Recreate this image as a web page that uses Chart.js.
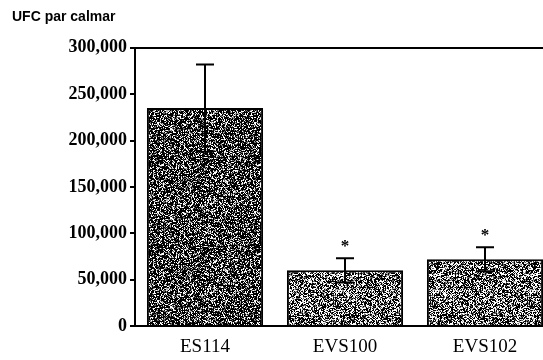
<!DOCTYPE html>
<html>
<head>
<meta charset="utf-8">
<script src="https://cdn.jsdelivr.net/npm/chart.js@4/dist/chart.umd.min.js"></script>
<style>
  html, body { margin: 0; padding: 0; background: #fff; }
  #wrap { width: 543px; height: 360px; overflow: hidden; position: relative; }
</style>
</head>
<body>
<div id="wrap"><canvas id="chart" width="555" height="360"></canvas></div>
<script>
const categories = ["ES114", "EVS100", "EVS102"];
const ufcMeans = [235000, 60000, 72000];
const ufcErrors = [47000, 13000, 13000];
const marks = ["", "*", "*"];
const yTicks = [0, 50000, 100000, 150000, 200000, 250000, 300000];

// grainy grey fill like the photocopied original
function makeGrain(darkness, seed) {
  const c = document.createElement("canvas");
  c.width = 97; c.height = 89;
  const g = c.getContext("2d");
  const img = g.createImageData(c.width, c.height);
  let s = seed;
  for (let i = 0; i < c.width * c.height; i++) {
    s = (s * 1103515245 + 12345) & 0x7fffffff;
    const r = (s >> 8) / 8388608;
    let v;
    if (r < darkness) v = 0;
    else if (r < darkness + 0.12) v = 100;
    else if (r < darkness + 0.22) v = 180;
    else v = 255;
    img.data[i * 4] = v; img.data[i * 4 + 1] = v; img.data[i * 4 + 2] = v; img.data[i * 4 + 3] = 255;
  }
  g.putImageData(img, 0, 0);
  return g.createPattern(c, "repeat");
}
const darkGrain = makeGrain(0.6, 12345);
const lightGrain = makeGrain(0.45, 777);

const errorBars = {
  id: "errorBars",
  afterDatasetsDraw(chart) {
    const ctx = chart.ctx;
    const meta = chart.getDatasetMeta(0);
    const y = chart.scales.y;
    ctx.save();
    ctx.strokeStyle = "#000";
    ctx.lineWidth = 2;
    meta.data.forEach((bar, i) => {
      const hi = y.getPixelForValue(ufcMeans[i] + ufcErrors[i]);
      const lo = y.getPixelForValue(ufcMeans[i] - ufcErrors[i]);
      const x = bar.x;
      ctx.beginPath();
      ctx.moveTo(x, lo); ctx.lineTo(x, hi);
      ctx.moveTo(x - 9, hi); ctx.lineTo(x + 9, hi);
      ctx.moveTo(x - 9, lo); ctx.lineTo(x + 9, lo);
      ctx.stroke();
      if (marks[i]) {
        ctx.fillStyle = "#000";
        ctx.font = "bold 17px 'Liberation Serif'";
        ctx.textAlign = "center";
        ctx.textBaseline = "bottom";
        ctx.fillText(marks[i], x, hi - 3);
      }
    });
    ctx.restore();
  }
};

new Chart(document.getElementById("chart"), {
  type: "bar",
  data: {
    labels: categories,
    datasets: [{
      data: ufcMeans,
      backgroundColor: [darkGrain, lightGrain, lightGrain],
      borderColor: "#000",
      borderWidth: 2,
      barPercentage: 0.83,
      categoryPercentage: 1
    }]
  },
  options: {
    responsive: false,
    animation: false,
    layout: { padding: { left: 12, right: 0, top: 0, bottom: 0 } },
    plugins: {
      legend: { display: false },
      tooltip: { enabled: false },
      title: {
        display: true,
        text: "UFC par calmar",
        align: "start",
        color: "#000",
        font: { family: "'Liberation Sans', Arial, sans-serif", size: 14, weight: "bold" },
        padding: { top: 9, bottom: 22 }
      }
    },
    scales: {
      x: {
        afterFit: s => { s.height = 34; },
        grid: { display: false, drawTicks: false, tickLength: 0 },
        border: { display: true, color: "#000", width: 2 },
        ticks: {
          color: "#000",
          padding: 10,
          font: { family: "'Liberation Serif', 'Times New Roman', serif", size: 19 }
        }
      },
      y: {
        min: 0,
        max: 300000,
        afterBuildTicks: s => { s.ticks = yTicks.map(v => ({ value: v })); },
        afterFit: s => { s.width = 123; },
        grid: {
          drawOnChartArea: true,
          color: c => (c.tick && c.tick.value === 300000) ? "#000" : "rgba(0,0,0,0)",
          tickColor: "#000",
          lineWidth: 2,
          tickLength: 5
        },
        border: { display: true, color: "#000", width: 2 },
        ticks: {
          color: "#000",
          padding: 3,
          font: { family: "'Liberation Serif', 'Times New Roman', serif", size: 18, weight: "bold" },
          callback: v => v.toLocaleString("en-US")
        }
      }
    }
  },
  plugins: [errorBars]
});
</script>
</body>
</html>
